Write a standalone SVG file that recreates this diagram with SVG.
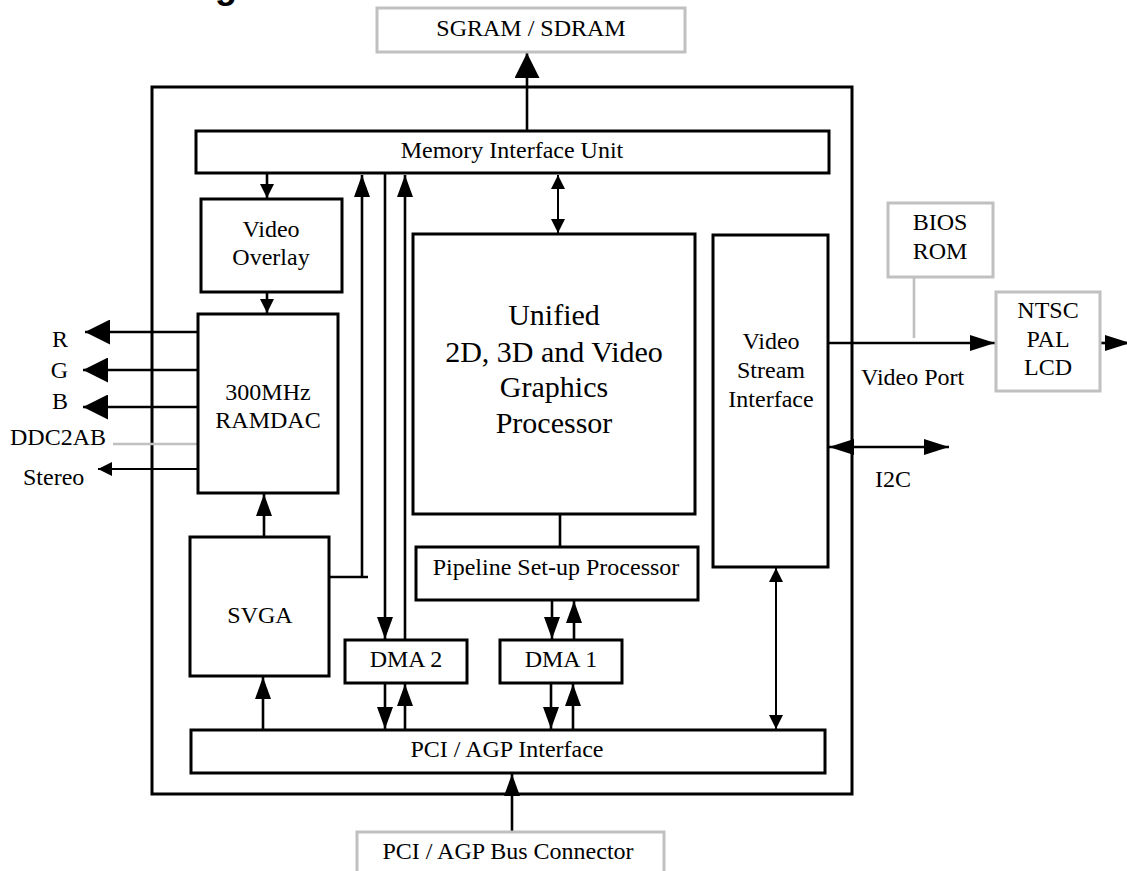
<svg xmlns="http://www.w3.org/2000/svg" width="1127" height="871" viewBox="0 0 1127 871">
<style>
.bx{fill:#fff;stroke:#000;stroke-width:3}
.gb{fill:#fff;stroke:#c0c0c0;stroke-width:3}
.ln{fill:none;stroke:#000;stroke-width:2.6}
.tn{fill:none;stroke:#000;stroke-width:2}
.gl{fill:none;stroke:#c0c0c0;stroke-width:2.6}
text{font-family:"Liberation Serif","Times New Roman",serif;font-size:24px;fill:#000;text-anchor:middle}
.big{font-size:30px}
.st{text-anchor:start}
.en{text-anchor:end}
.hd{font-family:"Liberation Sans",Arial,sans-serif;font-weight:bold;font-size:36px;text-anchor:start}
</style>
<defs>
<marker id="hb" markerUnits="userSpaceOnUse" viewBox="0 0 25 25" refX="25" refY="12.5" markerWidth="25" markerHeight="25" orient="auto-start-reverse"><path d="M0,0L25,12.5L0,25z" fill="#000"/></marker>
<marker id="hl" markerUnits="userSpaceOnUse" viewBox="0 0 25 16" refX="25" refY="8" markerWidth="25" markerHeight="16" orient="auto-start-reverse"><path d="M0,0L25,8L0,16z" fill="#000"/></marker>
<marker id="hm" markerUnits="userSpaceOnUse" viewBox="0 0 22 16" refX="22" refY="8" markerWidth="22" markerHeight="16" orient="auto-start-reverse"><path d="M0,0L22,8L0,16z" fill="#000"/></marker>
<marker id="hs" markerUnits="userSpaceOnUse" viewBox="0 0 14 14" refX="14" refY="7" markerWidth="14" markerHeight="14" orient="auto-start-reverse"><path d="M0,0L14,7L0,14z" fill="#000"/></marker>
</defs>

<text class="hd" x="215" y="-2">g</text>

<g id="outer"><rect class="bx" x="152" y="87" width="700" height="707"/></g>

<g id="connectors">
<line class="ln" x1="527" y1="131" x2="527" y2="53" marker-end="url(#hb)"/>
<line class="ln" x1="267" y1="173" x2="267" y2="198" marker-end="url(#hs)"/>
<line class="ln" x1="267" y1="292" x2="267" y2="313" marker-end="url(#hs)"/>
<line class="ln" x1="198" y1="332" x2="85" y2="332" marker-end="url(#hb)"/>
<line class="ln" x1="198" y1="370" x2="83" y2="370" marker-end="url(#hb)"/>
<line class="ln" x1="198" y1="407" x2="83" y2="407" marker-end="url(#hb)"/>
<line class="gl" x1="113" y1="444" x2="198" y2="444"/>
<line class="tn" x1="198" y1="469" x2="98" y2="469" marker-end="url(#hs)"/>
<line class="ln" x1="264" y1="537" x2="264" y2="494" marker-end="url(#hm)"/>
<polyline class="ln" points="329,577 368,577"/>
<line class="ln" x1="362" y1="577" x2="362" y2="175" marker-end="url(#hm)"/>
<line class="ln" x1="385" y1="173" x2="385" y2="639" marker-end="url(#hm)"/>
<line class="ln" x1="405" y1="640" x2="405" y2="175" marker-end="url(#hm)"/>
<line class="tn" x1="558" y1="175" x2="558" y2="233" marker-start="url(#hs)" marker-end="url(#hs)"/>
<line class="ln" x1="560" y1="514" x2="560" y2="547"/>
<line class="ln" x1="552" y1="600" x2="552" y2="639" marker-end="url(#hm)"/>
<line class="ln" x1="574" y1="640" x2="574" y2="601" marker-end="url(#hm)"/>
<line class="ln" x1="385" y1="683" x2="385" y2="729" marker-end="url(#hm)"/>
<line class="ln" x1="405" y1="730" x2="405" y2="684" marker-end="url(#hm)"/>
<line class="ln" x1="551" y1="683" x2="551" y2="729" marker-end="url(#hm)"/>
<line class="ln" x1="573" y1="730" x2="573" y2="684" marker-end="url(#hm)"/>
<line class="ln" x1="263" y1="730" x2="263" y2="677" marker-end="url(#hm)"/>
<line class="tn" x1="776" y1="568" x2="776" y2="729" marker-start="url(#hs)" marker-end="url(#hs)"/>
<line class="ln" x1="512" y1="832" x2="512" y2="774" marker-end="url(#hm)"/>
<line class="ln" x1="828" y1="343" x2="995" y2="343" marker-end="url(#hl)"/>
<line class="gl" x1="914" y1="277" x2="914" y2="338"/>
<line class="ln" x1="1100" y1="343" x2="1130" y2="343" marker-end="url(#hl)"/>
<line class="ln" x1="829" y1="447" x2="949" y2="447" marker-start="url(#hl)" marker-end="url(#hl)"/>
</g>

<g id="sgram"><rect class="gb" x="377" y="8" width="308" height="44"/><text x="531" y="36">SGRAM / SDRAM</text></g>
<g id="miu"><rect class="bx" x="196" y="131" width="633" height="42"/><text x="512" y="158">Memory Interface Unit</text></g>
<g id="overlay"><rect class="bx" x="201" y="199" width="141" height="93"/><text x="271" y="237">Video</text><text x="271" y="265">Overlay</text></g>
<g id="ramdac"><rect class="bx" x="198" y="314" width="140" height="179"/><text x="268" y="400">300MHz</text><text x="268" y="428">RAMDAC</text></g>
<g id="svga"><rect class="bx" x="190" y="537" width="139" height="139"/><text x="260" y="623">SVGA</text></g>
<g id="gpu"><rect class="bx" x="413" y="234" width="282" height="280"/>
<text class="big" x="554" y="325">Unified</text><text class="big" x="554" y="362">2D, 3D and Video</text><text class="big" x="554" y="397">Graphics</text><text class="big" x="554" y="433">Processor</text></g>
<g id="pipeline"><rect class="bx" x="416" y="547" width="282" height="53"/><text x="556" y="575">Pipeline Set-up Processor</text></g>
<g id="dma2"><rect class="bx" x="345" y="640" width="122" height="43"/><text x="406" y="667">DMA 2</text></g>
<g id="dma1"><rect class="bx" x="500" y="640" width="122" height="43"/><text x="561" y="667">DMA 1</text></g>
<g id="vsi"><rect class="bx" x="713" y="235" width="115" height="332"/><text x="771" y="349">Video</text><text x="771" y="378">Stream</text><text x="771" y="407">Interface</text></g>
<g id="pci"><rect class="bx" x="191" y="730" width="634" height="43"/><text x="507" y="757">PCI / AGP Interface</text></g>
<g id="bus"><rect class="gb" x="357" y="832" width="307" height="50"/><text x="508" y="859">PCI / AGP Bus Connector</text></g>
<g id="bios"><rect class="gb" x="888" y="203" width="105" height="74"/><text x="940" y="230">BIOS</text><text x="940" y="259">ROM</text></g>
<g id="ntsc"><rect class="gb" x="996" y="292" width="104" height="99"/><text x="1048" y="318">NTSC</text><text x="1048" y="347">PAL</text><text x="1048" y="375">LCD</text></g>

<g id="labels">
<text class="en" x="68" y="347">R</text>
<text class="en" x="68" y="378">G</text>
<text class="en" x="68" y="409">B</text>
<text class="st" x="10" y="445">DDC2AB</text>
<text class="st" x="23" y="485">Stereo</text>
<text class="st" x="861" y="385">Video Port</text>
<text class="st" x="875" y="487">I2C</text>
</g>
</svg>
